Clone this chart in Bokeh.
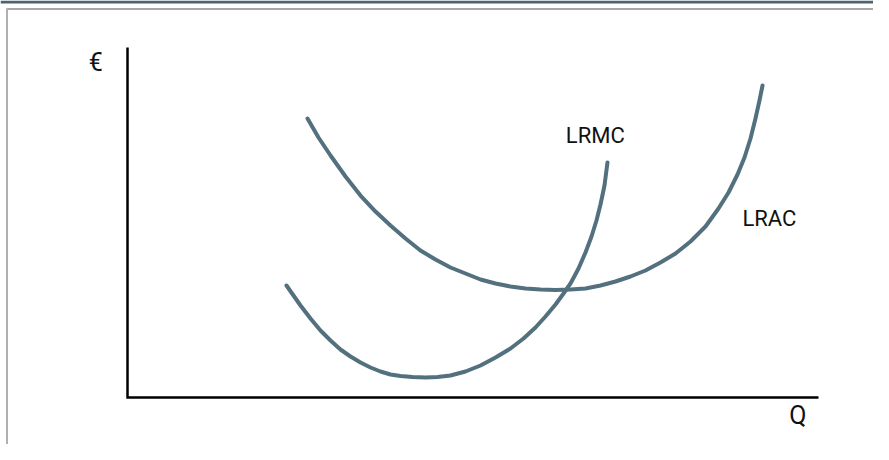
from bokeh.plotting import figure
from bokeh.models import Range1d
from bokeh.core.properties import value
from bokeh.embed import file_html
from bokeh.resources import INLINE

# ---- data (abstract units: Q on x, cost on y, axes span 0..100) ----
lrac_q = [26.05, 27.64, 29.38, 31.55, 33.72, 35.89, 38.06, 40.23, 42.40, 44.57,
          46.74, 48.91, 51.09, 53.26, 55.43, 57.60, 59.77, 61.94, 64.11, 66.28,
          68.45, 70.62, 72.79, 74.96, 77.13, 79.31, 81.48, 83.65, 85.53, 86.98,
          88.28, 89.29, 90.16, 90.88, 91.46, 91.90]
lrac_c = [79.71, 74.29, 69.14, 63.14, 57.71, 53.14, 49.14, 45.43, 42.00, 39.43,
          37.14, 35.43, 33.71, 32.57, 31.71, 31.14, 30.86, 30.71, 30.86, 31.14,
          32.00, 33.14, 34.57, 36.29, 38.57, 41.14, 44.57, 48.86, 54.00, 58.57,
          63.71, 68.57, 74.00, 79.71, 84.86, 89.14]

lrmc_q = [23.01, 24.02, 25.04, 26.48, 27.93, 29.38, 30.82, 32.27, 33.72, 35.17,
          36.61, 38.06, 39.51, 41.24, 43.13, 44.86, 46.74, 48.91, 51.09, 53.26,
          55.43, 57.31, 59.04, 60.49, 61.94, 63.10, 64.11, 65.27, 66.28, 67.15,
          67.87, 68.45, 69.03, 69.46]
lrmc_c = [32.00, 29.14, 26.29, 22.57, 19.14, 16.29, 13.71, 11.71, 10.00, 8.57,
          7.43, 6.57, 6.14, 5.86, 5.71, 5.86, 6.29, 7.43, 9.14, 11.43,
          14.00, 16.86, 20.00, 23.14, 26.57, 29.71, 32.57, 36.86, 41.43, 46.00,
          50.57, 55.14, 60.57, 67.14]

axis_x = [0, 0, 100]
axis_y = [100, 0, 0]

axis_label_text = ["€", "Q"]
axis_label_x = [-4.6, 97.0]
axis_label_y = [95.7, -5.1]

curve_label_text = ["LRMC", "LRAC"]
curve_label_x = [67.7, 92.9]
curve_label_y = [74.9, 51.1]

# ---- figure ----
W, H = 873, 444
X0, X1 = -18.38, 107.96
Y0, Y1 = -13.43, 113.43
ppx = W / (X1 - X0)
ppy = H / (Y1 - Y0)

p = figure(width=W, height=H, output_backend="svg", toolbar_location=None,
           x_range=Range1d(X0, X1), y_range=Range1d(Y0, Y1),
           min_border=0)
p.axis.visible = False
p.grid.visible = False
p.outline_line_color = None
p.background_fill_color = "white"
p.border_fill_color = "white"

# decorative frame
p.quad(left=X0, right=X1, top=Y1, bottom=Y1 - 3 / ppy, color="#4b6470", line_width=0)
p.segment(x0=X0 + 6 / ppx, x1=X1, y0=Y1 - 8.5 / ppy, y1=Y1 - 8.5 / ppy,
          line_color="#a8a8a8", line_width=2)
p.segment(x0=X0 + 6.5 / ppx, x1=X0 + 6.5 / ppx, y0=Y1 - 8.5 / ppy, y1=Y0,
          line_color="#b0b0b0", line_width=2)

# axes
p.line(axis_x, axis_y, line_color="#000000", line_width=2.5, line_join="miter")

# curves
curve_color = "#53707e"
p.line(lrac_q, lrac_c, line_color=curve_color, line_width=4, line_cap="round", line_join="round")
p.line(lrmc_q, lrmc_c, line_color=curve_color, line_width=4, line_cap="round", line_join="round")

# labels
p.text(x=axis_label_x, y=axis_label_y, text=axis_label_text, text_font=value("Roboto"),
       text_font_size="25px", text_color="#111111",
       text_align="center", text_baseline="middle")
p.text(x=curve_label_x, y=curve_label_y, text=curve_label_text, text_font=value("Roboto"),
       text_font_size="22px", text_color="#111111",
       text_align="center", text_baseline="middle")

open("out.html", "w").write(file_html(p, INLINE))
